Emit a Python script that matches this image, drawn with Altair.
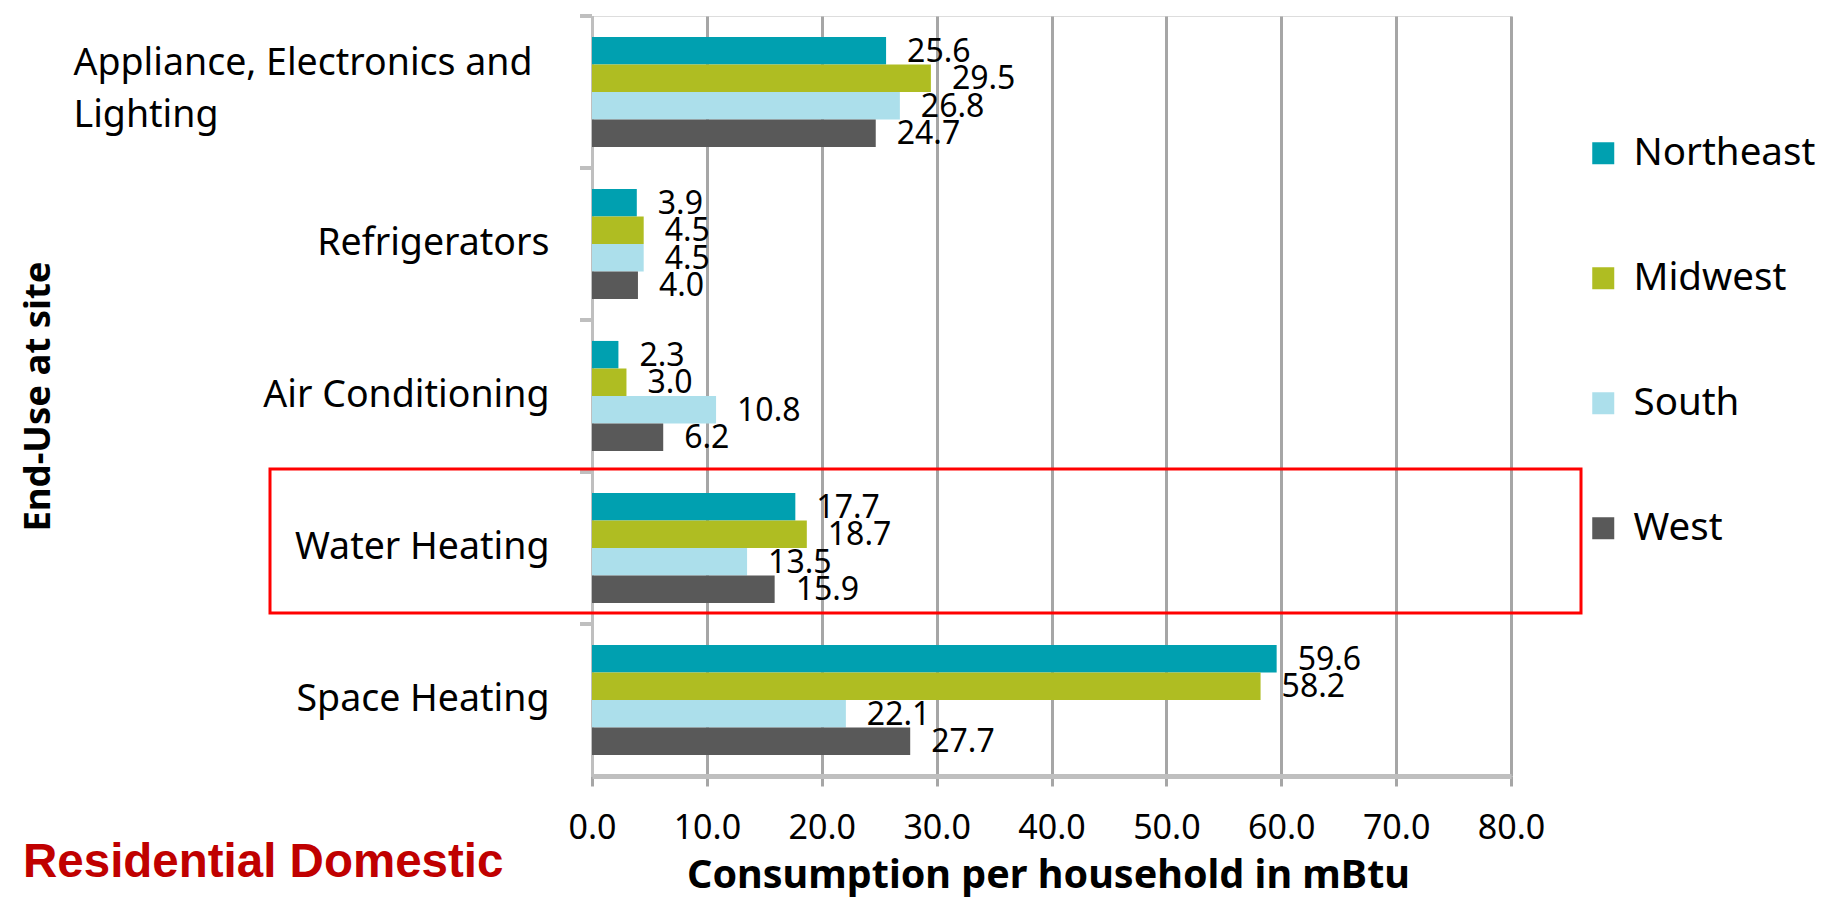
import altair as alt
import pandas as pd

end_uses = ["Appliance, Electronics and Lighting", "Refrigerators", "Air Conditioning",
            "Water Heating", "Space Heating"]
regions = ["Northeast", "Midwest", "South", "West"]
northeast = [25.6, 3.9, 2.3, 17.7, 59.6]
midwest = [29.5, 4.5, 3.0, 18.7, 58.2]
south = [26.8, 4.5, 10.8, 13.5, 22.1]
west = [24.7, 4.0, 6.2, 15.9, 27.7]
colors = ["#00A0B0", "#AFBD22", "#ACDFEB", "#595959"]
x_ticks = [0, 10, 20, 30, 40, 50, 60, 70, 80]
highlight = "Water Heating"
note = "Residential Domestic"

rows = []
for reg, vals in zip(regions, [northeast, midwest, south, west]):
    for use, v in zip(end_uses, vals):
        rows.append({"use": use, "region": reg, "value": v})
df = pd.DataFrame(rows)

FONT = "Noto Sans"
wrapped = "Appliance, Electronics and Lighting"
label_expr = ("datum.value == '" + wrapped + "' ? "
              "['Appliance, Electronics and', 'Lighting'] : datum.value")
is_wrapped = "datum.value == '" + wrapped + "'"

x_enc = alt.X("value:Q",
              scale=alt.Scale(domain=[0, 80], nice=False),
              axis=alt.Axis(values=x_ticks, format=".1f", title="Consumption per household in mBtu",
                            grid=True, gridColor="#A6A6A6", gridWidth=3,
                            domainColor="#BFBFBF", domainWidth=5,
                            tickColor="#A6A6A6", tickWidth=3, tickSize=10,
                            labelFont=FONT, labelFontSize=34, labelColor="#000000",
                            labelPadding=25, labelFlush=False,
                            titleFont=FONT, titleFontSize=39.5, titleFontWeight="bold",
                            titleColor="#000000", titleX=456, titleY=111,
                            titleAlign="center", titleBaseline="alphabetic"))
y_axis = alt.Axis(title="End-Use at site", ticks=False, domainColor="#BFBFBF", domainWidth=3,
                  labelFont=FONT, labelFontSize=37.5, labelColor="#000000",
                  labelAlign=alt.condition(is_wrapped, alt.value("left"), alt.value("right")),
                  labelPadding=alt.condition(is_wrapped, alt.value(519), alt.value(43)),
                  labelOffset=alt.condition(is_wrapped, alt.value(-28), alt.value(0)),
                  labelLimit=700, labelExpr=label_expr, labelLineHeight=52,
                  titleFont=FONT, titleFontSize=36.5, titleFontWeight="bold", titleColor="#000000",
                  titleAngle=270, titleX=-554, titleY=380, titleBaseline="middle",
                  titleAlign="center")
y_enc = alt.Y("use:N", sort=end_uses, scale=alt.Scale(paddingInner=0, paddingOuter=0), axis=y_axis)
yoff = alt.YOffset("region:N", sort=regions, scale=alt.Scale(paddingInner=0, paddingOuter=0.76))

base = alt.Chart(df)
bars = base.mark_bar().encode(
    x=x_enc, y=y_enc, yOffset=yoff,
    color=alt.Color("region:N", sort=regions,
                    scale=alt.Scale(domain=regions, range=colors),
                    legend=alt.Legend(title=None, orient="none", legendX=992, legendY=118,
                                      symbolType="square", symbolSize=484, symbolStrokeWidth=0,
                                      labelFont=FONT, labelFontSize=38.5, labelColor="#000000",
                                      labelOffset=11, labelLimit=400, rowPadding=86, padding=0)))
labels = base.mark_text(align="left", baseline="middle", dx=21, dy=1, font=FONT,
                        fontSize=32, color="#000000").encode(
    x="value:Q", y=alt.Y("use:N", sort=end_uses), yOffset=yoff,
    text=alt.Text("value:Q", format=".1f"))

seps = alt.Chart(pd.DataFrame({"use": end_uses})).mark_rule(
    color="#BFBFBF", strokeWidth=4).encode(
    y=alt.Y("use:N", sort=end_uses, bandPosition=0), x=alt.value(-12), x2=alt.value(0))

box = alt.Chart(pd.DataFrame({"use": [highlight]})).mark_rect(
    fillOpacity=0, stroke="#FF0000", strokeWidth=3).encode(
    x=alt.value(-322), x2=alt.value(989), y=alt.value(453), y2=alt.value(597))

note_layer = alt.Chart(pd.DataFrame({"t": [note]})).mark_text(
    align="left", baseline="alphabetic", font="Liberation Sans", fontSize=47.5,
    fontWeight="bold", color="#C00000").encode(
    text="t:N", x=alt.value(-569), y=alt.value(861))

chart = alt.layer(bars, labels, seps, box, note_layer).properties(
    width=919, height=760,
    autosize=alt.AutoSizeParams(type="none"),
    padding={"left": 592, "top": 16, "right": 321, "bottom": 122},
).configure_view(stroke=None).configure(background="white")

chart.save("out.html", embed_options={"renderer": "svg", "actions": False})
